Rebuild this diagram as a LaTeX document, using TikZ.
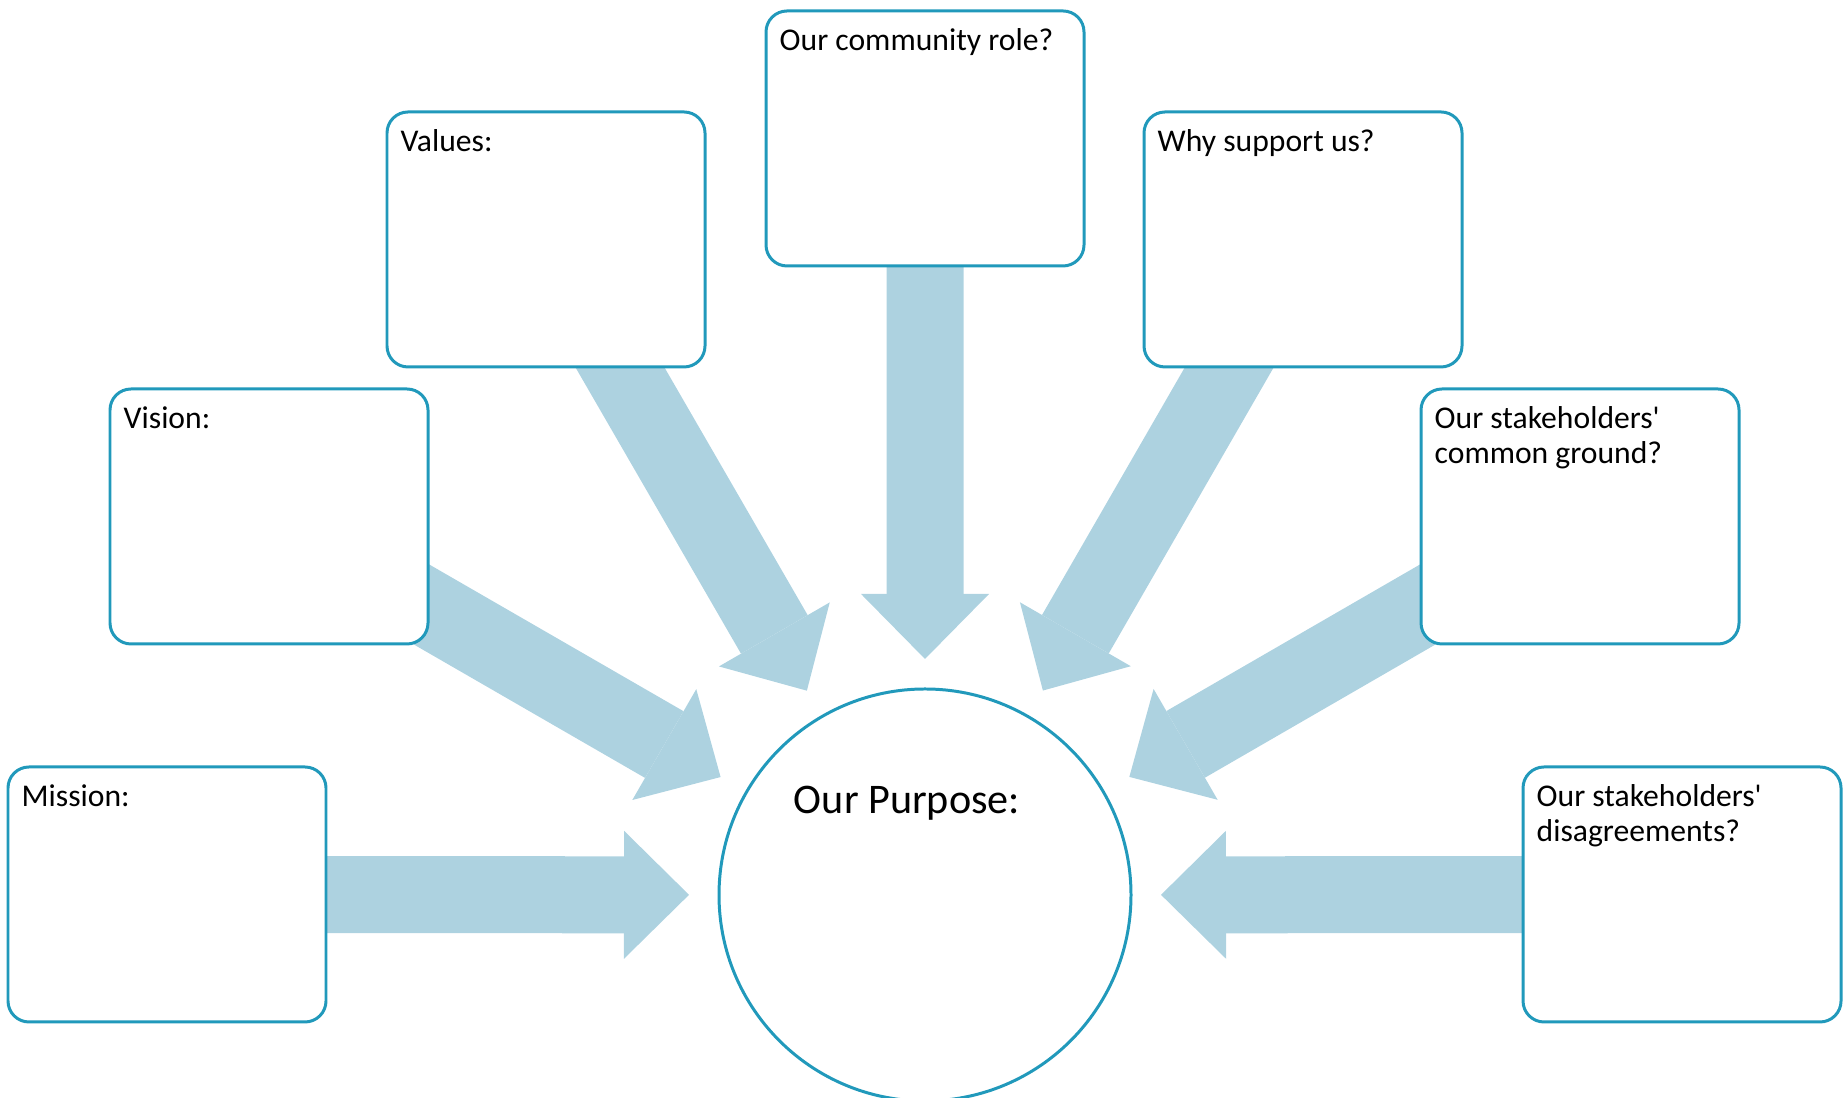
\documentclass[tikz,border=0pt]{standalone}
\usepackage{fontspec}
\setmainfont{Carlito}
\usetikzlibrary{arrows.meta,backgrounds}

\definecolor{rimblue}{HTML}{2199BB}
\definecolor{flowblue}{HTML}{ADD2E0}

\tikzset{
  panel/.style={draw=rimblue, line width=0.85pt, fill=white, rounded corners=0.21cm,
    minimum width=3.18cm, minimum height=2.55cm, inner sep=0pt, outer sep=0pt, anchor=north west},
  paneltext/.style={anchor=north west, inner sep=0pt, align=left, font=\fontsize{9}{10}\selectfont},
  hub/.style={circle, draw=rimblue, line width=0.85pt, fill=white, minimum size=4.12cm,
    inner sep=0pt, outer sep=0pt},
  flow/.style={draw=flowblue, line width=0.77cm,
    -{Triangle[width=1.28cm,length=0.65cm,line width=0pt]}, shorten >=0.3cm}
}

\begin{document}
\begin{tikzpicture}
  \useasboundingbox (0,0) rectangle (18.48,10.98);
  \clip (0,0) rectangle (18.48,10.98);

  % central circle
  \node[hub] (purpose) at (9.25,2.03) {};
  \node[font=\fontsize{12}{14}\selectfont, anchor=base] (purposetext)
    at ([shift={(-0.18,0.81)}]purpose.center) {Our Purpose:};

  % panels on a half ring around the circle
  \node[panel] (mission)   at (0.08,3.31)  {};
  \node[panel] (vision)    at (1.10,7.09)  {};
  \node[panel] (values)    at (3.87,9.86)  {};
  \node[panel] (community) at (7.66,10.87) {};
  \node[panel] (support)   at (11.44,9.86) {};
  \node[panel] (common)    at (14.21,7.09) {};
  \node[panel] (disagree)  at (15.23,3.31) {};

  % panel headings
  \node[paneltext] (missiontext)   at ([shift={(0.13,-0.17)}]mission.north west)   {Mission:};
  \node[paneltext] (visiontext)    at ([shift={(0.13,-0.17)}]vision.north west)    {Vision:};
  \node[paneltext] (valuestext)    at ([shift={(0.13,-0.17)}]values.north west)    {Values:};
  \node[paneltext] (communitytext) at ([shift={(0.13,-0.17)}]community.north west) {Our community role?};
  \node[paneltext] (supporttext)   at ([shift={(0.13,-0.17)}]support.north west)   {Why support us?};
  \node[paneltext] (commontext)    at ([shift={(0.13,-0.17)}]common.north west)
    {Our stakeholders\textquotesingle\\common ground?};
  \node[paneltext] (disagreetext)  at ([shift={(0.13,-0.17)}]disagree.north west)
    {Our stakeholders\textquotesingle\\disagreements?};

  % block arrows, tucked under the panels
  \begin{scope}[on background layer]
    \foreach \src in {mission,vision,values,community,support,common,disagree}
      \draw[flow] (\src.center) -- (purpose);
  \end{scope}
\end{tikzpicture}
\end{document}
